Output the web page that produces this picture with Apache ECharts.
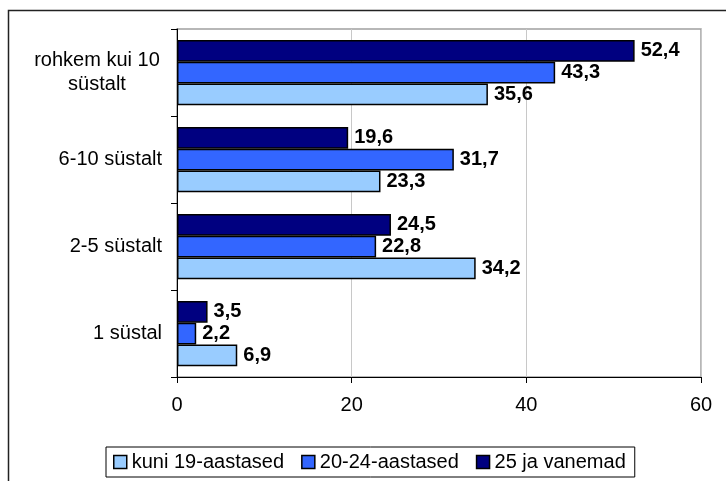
<!DOCTYPE html>
<html>
<head>
<meta charset="utf-8">
<script src="https://cdn.jsdelivr.net/npm/echarts@6/dist/echarts.min.js"></script>
<style>
  html, body { margin: 0; padding: 0; background: #fff; }
  #chart { width: 726px; height: 481px; }
</style>
</head>
<body>
<div id="chart"></div>
<script>
// categories, bottom to top
const categories = ["1 süstal", "2-5 süstalt", "6-10 süstalt", "rohkem kui 10\nsüstalt"];
const seriesNames = ["kuni 19-aastased", "20-24-aastased", "25 ja vanemad"];
const kuni19 = [6.9, 34.2, 23.3, 35.6];
const vanus2024 = [2.2, 22.8, 31.7, 43.3];
const vanus25 = [3.5, 24.5, 19.6, 52.4];
const xTicks = [0, 20, 40, 60];

const colors = ["#99ccff", "#3366ff", "#000080"];
const font = "'Liberation Sans', Arial, sans-serif";

const chart = echarts.init(document.getElementById("chart"));

const makeSeries = (name, data, color) => ({
  name: name,
  type: "bar",
  data: data,
  barGap: "0%",
  barCategoryGap: "25%",
  itemStyle: {
    color: color,
    borderColor: "#000",
    borderWidth: 1.5,
  },
  label: {
    show: true,
    position: "right",
    distance: 6,
    color: "#000",
    fontFamily: font,
    fontWeight: "bold",
    fontSize: 20,
    formatter: (p) => String(p.value).replace(".", ","),
  },
});

chart.setOption({
  animation: false,
  textStyle: { fontFamily: font },
  graphic: [
    {
      type: "rect",
      shape: { x: 8.5, y: 10.5, width: 900, height: 600 },
      style: { fill: "none", stroke: "#222", lineWidth: 1.5 },
      z: -1,
    },
  ],
  grid: {
    left: 177,
    right: 25,
    top: 29,
    bottom: 104,
    show: true,
    borderColor: "#a0a0a0",
    borderWidth: 1.5,
  },
  legend: {
    data: seriesNames,
    left: 106,
    top: 447,
    padding: [5, 9, 5, 7],
    itemWidth: 13,
    itemHeight: 13,
    itemGap: 17,
    icon: "rect",
    borderColor: "#000",
    borderWidth: 1,
    itemStyle: { borderColor: "#000", borderWidth: 1.5 },
    textStyle: { fontSize: 20, color: "#000", fontFamily: font },
  },
  xAxis: {
    type: "value",
    min: xTicks[0],
    max: xTicks[xTicks.length - 1],
    interval: 20,
    axisLine: { show: true, lineStyle: { color: "#000", width: 1 } },
    axisTick: { show: true, length: 6, lineStyle: { color: "#000" } },
    axisLabel: { margin: 18, fontSize: 20, color: "#000", fontFamily: font },
    splitLine: { show: true, lineStyle: { color: "#c8c8c8", width: 1 } },
  },
  yAxis: {
    type: "category",
    data: categories,
    axisLine: { show: true, lineStyle: { color: "#000", width: 1 } },
    axisTick: { show: true, length: 6, lineStyle: { color: "#000" } },
    axisLabel: {
      margin: 15,
      fontSize: 20,
      color: "#000",
      fontFamily: font,
      formatter: (v) => {
        if (v.indexOf("\n") < 0) return v;
        return v.split("\n").map((s) => "{c|" + s + "}").join("\n");
      },
      rich: {
        c: { width: 130, align: "center", fontSize: 20, color: "#000", fontFamily: font, lineHeight: 24 },
      },
    },
  },
  // the first series lands on top of each group, so the oldest group goes first
  series: [
    makeSeries(seriesNames[2], vanus25, colors[2]),
    makeSeries(seriesNames[1], vanus2024, colors[1]),
    makeSeries(seriesNames[0], kuni19, colors[0]),
  ],
});
</script>
</body>
</html>
